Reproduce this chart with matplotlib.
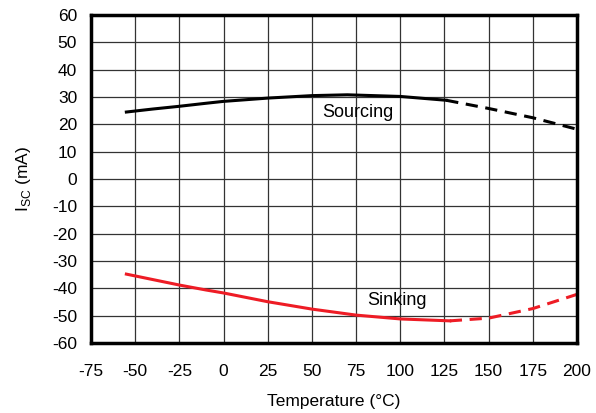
import numpy as np
import matplotlib.pyplot as plt

plt.rcParams['font.family'] = ['Liberation Sans', 'DejaVu Sans']
plt.rcParams['axes.unicode_minus'] = False

# sourcing current, solid part and dashed (extrapolated) part
src_t = [-55, -40, -25, -10, 0, 25, 50, 70, 100, 126]
src_i = [24.5, 25.6, 26.6, 27.7, 28.4, 29.6, 30.5, 30.8, 30.2, 28.8]
src_t_dash = [126, 150, 175, 200]
src_i_dash = [28.8, 25.8, 22.4, 18.2]

# sinking current
snk_t = [-55, -40, -25, -10, 0, 25, 50, 75, 100, 128]
snk_i = [-34.8, -36.8, -38.8, -40.6, -41.7, -44.9, -47.6, -49.8, -51.2, -51.9]
snk_t_dash = [128, 150, 175, 200]
snk_i_dash = [-51.9, -50.9, -47.4, -42.2]

fig = plt.figure(figsize=(5.96, 4.13), dpi=100)
ax = fig.add_axes([0.1527, 0.1695, 0.8155, 0.7942])

ax.plot(src_t, src_i, color='black', lw=2.2)
ax.plot(src_t_dash, src_i_dash, color='black', lw=2.2, ls=(0, (4, 2.5)))
ax.plot(snk_t, snk_i, color='#ee1c25', lw=2.2)
ax.plot(snk_t_dash, snk_i_dash, color='#ee1c25', lw=2.2, ls=(0, (4, 2.5)))

ax.text(76, 24.5, 'Sourcing', fontsize=13, ha='center', va='center')
ax.text(98, -44.3, 'Sinking', fontsize=13, ha='center', va='center')

ax.set_xlim(-75, 200)
ax.set_ylim(-60, 60)
ax.set_xticks(np.arange(-75, 201, 25))
ax.set_yticks(np.arange(-60, 61, 10))
ax.grid(True, color='#333333', lw=0.9)
ax.tick_params(length=0, labelsize=12.5)
ax.tick_params(axis='x', pad=15)
ax.tick_params(axis='y', pad=10)
for s in ax.spines.values():
    s.set_linewidth(2.5)

ax.set_xlabel('Temperature (°C)', fontsize=12.5, labelpad=11)
ax.set_ylabel('I$_{\\mathregular{SC}}$ (mA)', fontsize=12.5, labelpad=14)

fig.savefig('out.png', dpi=100)
